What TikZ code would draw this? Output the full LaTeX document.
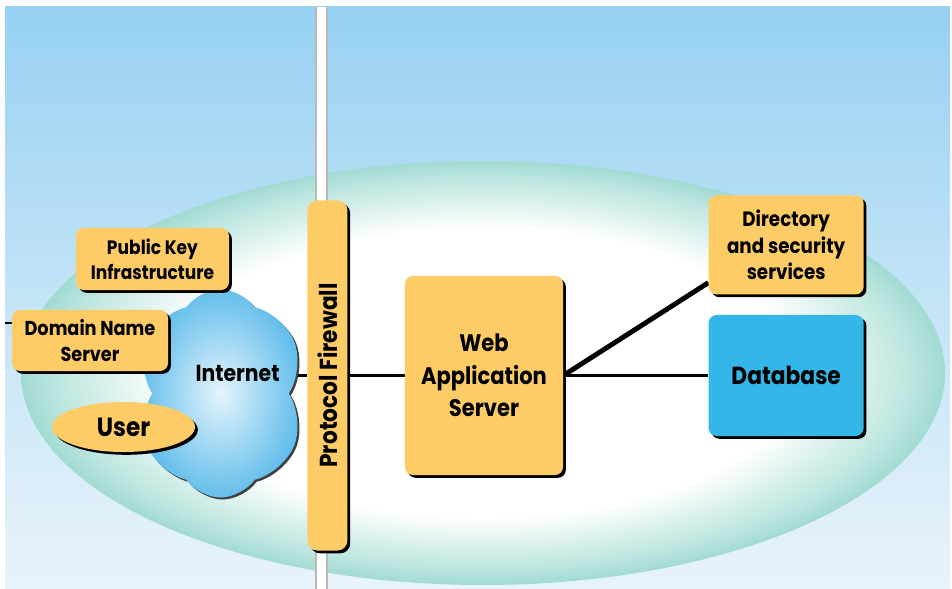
\documentclass[tikz,border=0pt]{standalone}
\usepackage{graphicx}
\usepackage{fontspec}
\setmainfont{Poppins}[FakeStretch=0.88]
\usetikzlibrary{shapes.geometric, shapes.symbols, positioning, shadows}
\definecolor{sky}{RGB}{150, 208, 242}
\definecolor{haze}{RGB}{232, 243, 250}
\definecolor{rim}{RGB}{124, 205, 192}
\definecolor{amber}{RGB}{254, 204, 102}
\definecolor{dbblue}{RGB}{52, 182, 232}
\definecolor{cloudhi}{RGB}{228, 244, 252}
\definecolor{cloudlo}{RGB}{100, 190, 235}
\pgfdeclareradialshading{lagoon}{\pgfpoint{0bp}{0bp}}{color(0bp)=(white); color(17bp)=(white); color(23bp)=(rim!50!white); color(27.5bp)=(rim); color(50bp)=(rim)}
\pgfdeclarelayer{back}
\pgfdeclarelayer{wire}
\pgfsetlayers{back,wire,main}
\tikzstyle{service} = [rectangle, rounded corners=0.2cm, fill=amber, align=center, inner sep=0pt, drop shadow={shadow xshift=0.07cm, shadow yshift=-0.07cm, fill=black, opacity=1}]
\tikzstyle{link} = [line width=2pt]

\begin{document}
\begin{tikzpicture}[x=0.025cm, y=-0.025cm]
\useasboundingbox (0,0) rectangle (952,589);

% Backdrop
\begin{pgfonlayer}{back}
\shade[top color=sky, bottom color=haze, middle color=sky!45!haze] (5,7) rectangle (950,589);
\shade[shading=lagoon] (483,373) ellipse [x radius=462, y radius=212];
\end{pgfonlayer}

% Server side
\node[service, minimum width=3.95cm, minimum height=4.975cm, font=\fontsize{17}{23}\selectfont\bfseries] (was) at (484,375.5) {Web\\Application\\Server};
\node[service, left=1.425cm of was, minimum width=1cm, minimum height=8.75cm, rounded corners=0.25cm, font=\fontsize{17.5}{18}\selectfont\bfseries] (fw) {\rotatebox{90}{Protocol Firewall}};
\node[service, right=3.625cm of was, fill=dbblue, minimum width=3.875cm, minimum height=3.025cm, font=\fontsize{17.6}{20}\selectfont\bfseries] (db) {Database};
\node[service, above=0.5cm of db, minimum width=3.875cm, minimum height=2.475cm, font=\fontsize{14.8}{19}\selectfont\bfseries] (dir) {Directory\\and security\\services};

% Client side
\node[cloud, cloud puffs=6, cloud puff arc=110, aspect=0.8, left=0.45cm of fw, yshift=-0.45cm, minimum width=4.25cm, minimum height=5.2cm, inner color=cloudhi, outer color=cloudlo, drop shadow={shadow xshift=0.05cm, shadow yshift=-0.05cm, fill=black!75, opacity=1}] (inet) {};
\node[font=\fontsize{16.5}{18}\selectfont\bfseries] (inettext) at ([xshift=0.425cm, yshift=0.5cm]inet.center) {Internet};
\node[service, minimum width=3.825cm, minimum height=1.55cm, font=\fontsize{13.8}{18}\selectfont\bfseries] (pki) at (152.5,259) {Public Key\\Infrastructure};
\node[service, minimum width=3.9cm, minimum height=1.525cm, font=\fontsize{14.3}{18.5}\selectfont\bfseries] (dns) at (90,340.5) {Domain Name\\Server};
\node[service, ellipse, minimum width=3.575cm, minimum height=1.25cm, font=\fontsize{18.7}{20}\selectfont\bfseries] (user) at (123.5,427) {User};

% Wall behind the firewall
\coordinate (wall) at ([xshift=-0.15cm]fw.center);
\coordinate (top) at (0,7);
\coordinate (bot) at (0,589);
\begin{pgfonlayer}{back}
\draw[line width=0.32cm, gray!55] (wall |- top) -- (wall |- bot);
\draw[line width=0.24cm, white] (wall |- top) -- (wall |- bot);
\end{pgfonlayer}

% Connectors
\coordinate (edge) at (5,323);
\begin{pgfonlayer}{wire}
\draw[link] (fw.west -| inet.center) -- (fw.west);
\draw[link] (fw) -- (was);
\draw[link] (was) -- (db);
\draw[link, line width=3.5pt] (was.east) -- ([yshift=0.3cm]dir.south west);
\draw[link] (edge) -- (edge -| dns.west);
\end{pgfonlayer}

\end{tikzpicture}
\end{document}
